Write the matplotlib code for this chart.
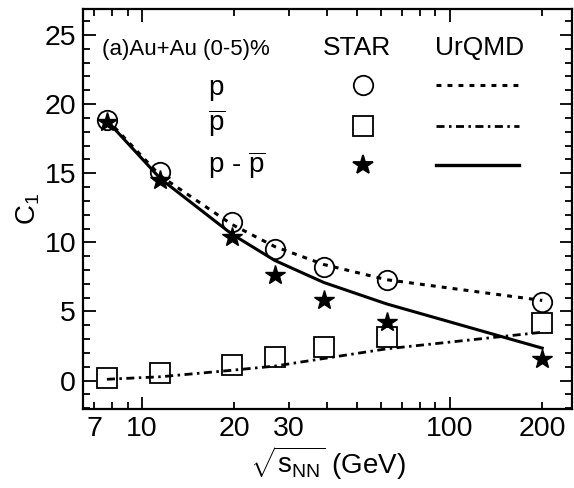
import numpy as np
import matplotlib.pyplot as plt
from matplotlib.lines import Line2D

plt.rcParams['font.family'] = ['Liberation Sans', 'DejaVu Sans']
plt.rcParams['mathtext.fontset'] = 'custom'
plt.rcParams['mathtext.rm'] = 'Liberation Sans'
plt.rcParams['mathtext.it'] = 'Liberation Sans:italic'

# beam energies (GeV)
energy = [7.7, 11.5, 19.6, 27, 39, 62.4, 200]

# STAR C1 measurements
star_p = [18.85, 15.1, 11.5, 9.5, 8.24, 7.28, 5.71]
star_pbar = [0.17, 0.53, 1.13, 1.74, 2.46, 3.14, 4.15]
star_net = [18.7, 14.5, 10.4, 7.65, 5.85, 4.25, 1.55]

# UrQMD C1
urqmd_p = [18.9, 14.8, 11.3, 9.7, 8.4, 7.3, 5.8]
urqmd_pbar = [0.1, 0.28, 0.75, 1.05, 1.6, 2.3, 3.5]
urqmd_net = [18.8, 14.6, 10.6, 8.7, 7.1, 5.55, 2.35]

xtick_major = [10, 100]
xtick_minor = [7, 8, 9, 20, 30, 40, 50, 60, 70, 80, 90, 200]
xtick_minor_labels = ['7', '', '', '20', '30', '', '', '', '', '', '', '200']

fig = plt.figure(figsize=(5.74, 4.88), dpi=100)
ax = fig.add_axes([0.1446, 0.1619, 0.852, 0.819])

dotted = (0, (1.6, 2.0))
dashdot = (0, (2.9, 1.6, 0.9, 1.6))

ax.plot(energy, urqmd_p, color='black', lw=2.2, ls=dotted, zorder=2)
ax.plot(energy, urqmd_pbar, color='black', lw=2.0, ls=dashdot, zorder=2)
ax.plot(energy, urqmd_net, color='black', lw=2.2, ls='-', zorder=2)

ax.plot(energy, star_p, 'o', ms=14, mfc='none', mec='black', mew=1.3, zorder=3)
ax.plot(energy, star_pbar, 's', ms=14, mfc='none', mec='black', mew=1.3, zorder=3)
ax.plot(energy, star_net, '*', ms=15, mfc='black', mec='black', zorder=4)

ax.set_xscale('log')
ax.set_xlim(6.44, 250)
ax.set_ylim(-2.05, 26.85)

ax.set_xticks(xtick_major, labels=['10', '100'])
ax.set_xticks(xtick_minor, labels=xtick_minor_labels, minor=True)
ax.set_yticks([0, 5, 10, 15, 20, 25])
ax.set_yticks(np.arange(-2, 27, 1), minor=True)

ax.tick_params(which='both', direction='in', top=True, right=True,
               labelsize=20.5, width=1.3, pad=5)
ax.tick_params(which='major', length=9)
ax.tick_params(which='minor', length=5)
for s in ax.spines.values():
    s.set_linewidth(1.6)

ax.set_xlabel(r'$\sqrt{\mathrm{s_{NN}}}$ (GeV)', fontsize=20, labelpad=2)
ax.set_ylabel(r'C$_1$', fontsize=20, labelpad=2)

# table-style legend
tr = ax.transAxes
ax.text(0.038, 0.886, '(a)Au+Au (0-5)%', transform=tr, fontsize=16, va='baseline')
ax.text(0.49, 0.886, 'STAR', transform=tr, fontsize=19, va='baseline')
ax.text(0.72, 0.886, 'UrQMD', transform=tr, fontsize=19, va='baseline')

rows = [(0.786, 0.811, 'p', 'o', 'none', dotted, 2.2),
        (0.694, 0.709, r'$\overline{\mathrm{p}}$', 's', 'none', dashdot, 2.0),
        (0.590, 0.610, r'p - $\overline{\mathrm{p}}$', '*', 'black', '-', 2.4)]
for base, mid, label, mk, fc, ls, lw in rows:
    ax.text(0.256, base, label, transform=tr, fontsize=20, va='baseline')
    ax.add_line(Line2D([0.572], [mid], transform=tr, marker=mk, ms=14 if mk != '*' else 15,
                       mfc=fc, mec='black', mew=1.3, ls='none'))
    ax.add_line(Line2D([0.722, 0.892], [mid, mid], transform=tr, color='black', lw=lw, ls=ls))

fig.savefig('out.png', dpi=100)
